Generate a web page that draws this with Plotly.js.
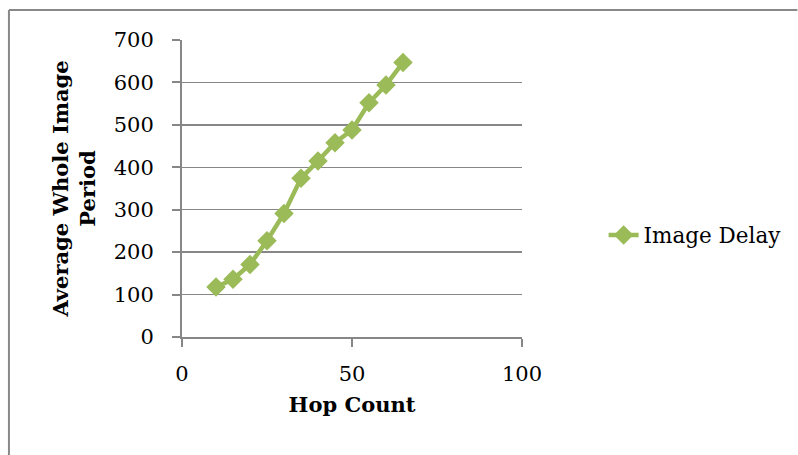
<!DOCTYPE html>
<html>
<head>
<meta charset="utf-8">
<script src="https://cdn.plot.ly/plotly-3.0.1.min.js"></script>
<style>html,body{margin:0;padding:0;background:#fff;}#chart{width:798px;height:455px;}</style>
</head>
<body>
<div id="chart"></div>
<script>
const hopCount = [10, 15, 20, 25, 30, 35, 40, 45, 50, 55, 60, 65];
const imageDelay = [118, 136, 171, 227, 291, 374, 415, 458, 488, 552, 594, 647];
const seriesName = 'Image Delay';
const xTitle = 'Hop Count';
const yTitle = 'Average Whole Image<br>Period';

const FONT = 'DejaVu Serif, Liberation Serif, serif';
const GRID = '#878787';

const trace = {
  x: hopCount, y: imageDelay, name: seriesName,
  type: 'scatter', mode: 'lines+markers',
  line: {color: '#9BBB59', width: 4.5},
  marker: {symbol: 'diamond', size: 15, color: '#9BBB59'}
};

const layout = {
  width: 798, height: 455,
  margin: {l: 182, r: 276, t: 40, b: 118},
  paper_bgcolor: '#fff', plot_bgcolor: '#fff',
  font: {family: FONT, size: 21, color: '#000'},
  showlegend: true,
  legend: {x: 1.24, y: 0.343, xanchor: 'left', yanchor: 'middle', font: {family: FONT, size: 21.5, color: '#000'}},
  xaxis: {
    range: [0, 100], tickvals: [0, 50, 100], ticktext: ['0', '50', '100'],
    showgrid: false, zeroline: false, showline: true, linecolor: GRID, linewidth: 2,
    ticks: 'outside', ticklen: 8, tickcolor: GRID, tickwidth: 2, ticklabelstandoff: 9,
    tickfont: {size: 21},
    title: {text: xTitle, font: {family: FONT, size: 21, weight: 'bold'}, standoff: 12}
  },
  yaxis: {
    range: [0, 700], dtick: 100,
    showgrid: true, gridcolor: GRID, gridwidth: 1.5, zeroline: false,
    showline: true, linecolor: GRID, linewidth: 2,
    ticks: 'outside', ticklen: 8, tickcolor: GRID, tickwidth: 2, ticklabelstandoff: 14,
    tickfont: {size: 21},
    title: {text: yTitle, font: {family: FONT, size: 21, weight: 'bold'}, standoff: 12}
  },
  shapes: [
    {type: 'line', xref: 'paper', yref: 'paper', x0: -0.509, x1: 1.81, y0: 1.101, y1: 1.101, line: {color: '#888', width: 2}},
    {type: 'line', xref: 'paper', yref: 'paper', x0: -0.509, x1: -0.509, y0: 1.101, y1: -0.4, line: {color: '#888', width: 2}}
  ]
};

Plotly.newPlot('chart', [trace], layout, {staticPlot: true, displayModeBar: false});
</script>
</body>
</html>
